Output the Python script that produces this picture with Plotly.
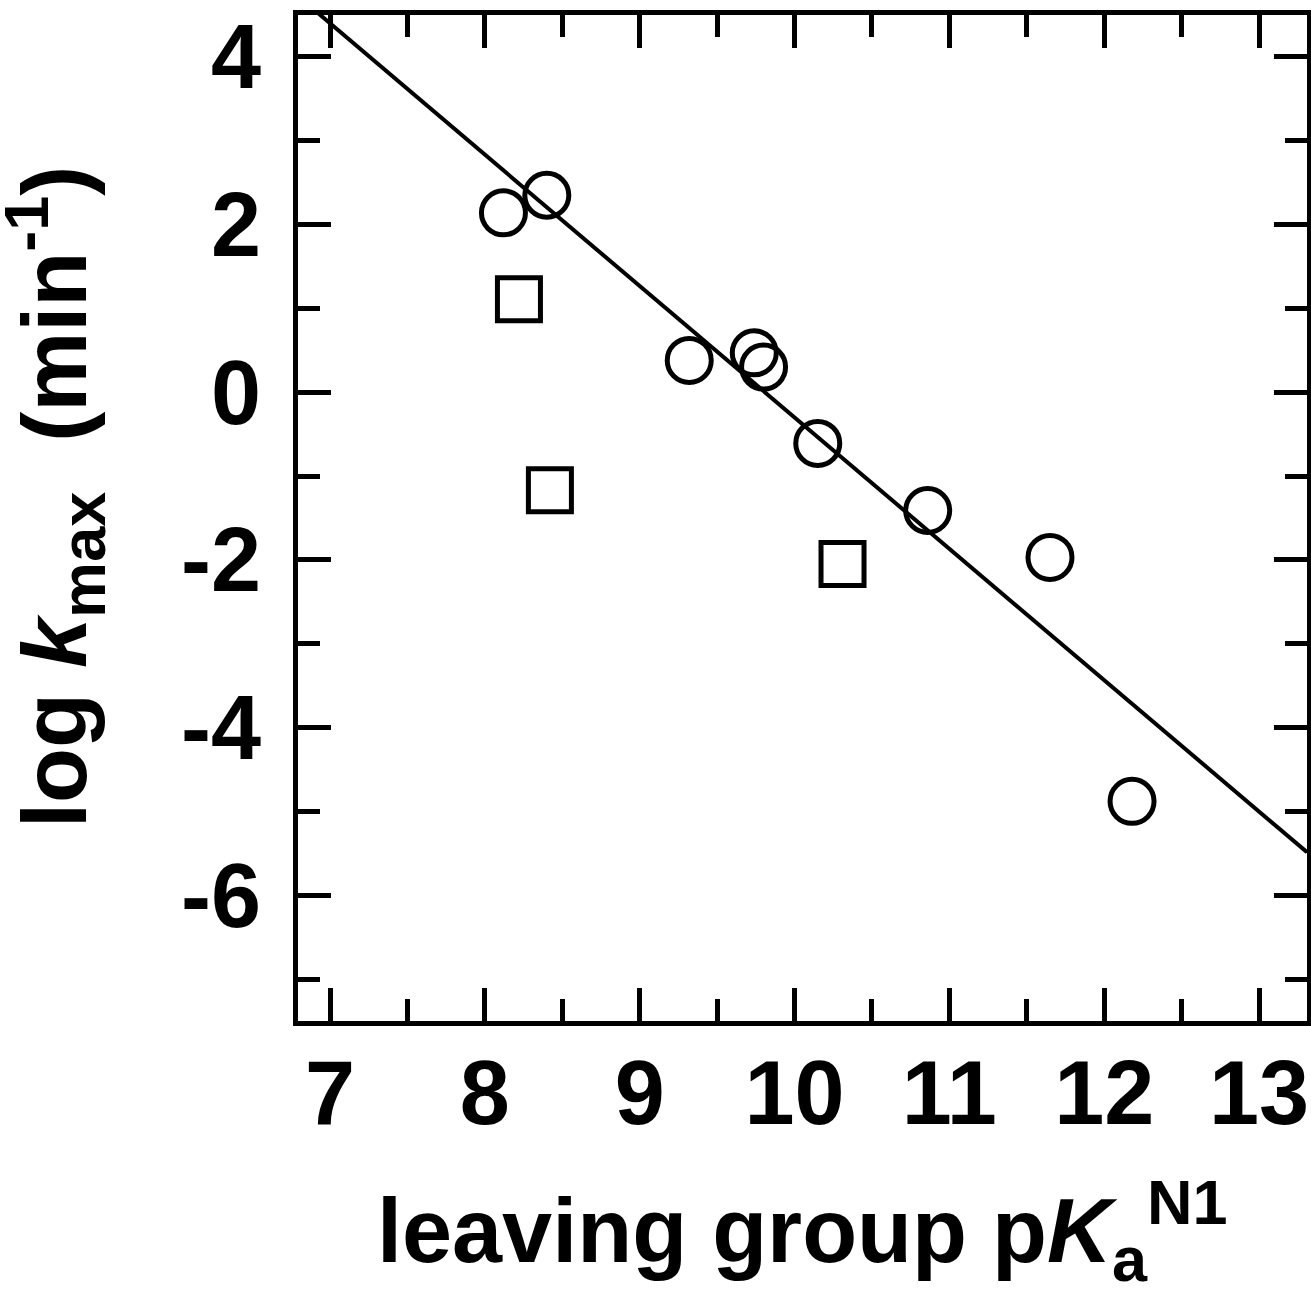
import plotly.graph_objects as go

# Circles: leaving groups fitted by the Brønsted line
circle_pka = [8.12, 8.40, 9.32, 9.74, 9.80, 10.15, 10.86, 11.65, 12.18]
circle_logk = [2.14, 2.35, 0.38, 0.47, 0.30, -0.61, -1.41, -1.97, -4.88]

# Squares: deviating leaving groups
square_pka = [8.22, 8.42, 10.31]
square_logk = [1.11, -1.17, -2.05]

# Linear fit: log kmax = slope * pKa + intercept
fit_slope = -1.567
fit_intercept = 15.37
fit_x = [6.79, 13.31]

x_tick_vals = [7, 8, 9, 10, 11, 12, 13]
x_tick_labels = ["7", "8", "9", "10", "11", "12", "13"]
y_tick_vals = [-6, -4, -2, 0, 2, 4]
y_tick_labels = ["-6", "-4", "-2", "0", "2", "4"]

x_title = "leaving group p<i>K</i><sub>a</sub><sup>N1</sup>"
y_title = "log <i>k</i><sub>max</sub>  (min<sup>-1</sup>)"

FONT = "Liberation Sans, Arial, Helvetica, sans-serif"
title_font = dict(family=FONT, size=90, color="black", weight=700)

fig = go.Figure()

fig.add_trace(go.Scatter(
    x=fit_x,
    y=[fit_slope * v + fit_intercept for v in fit_x],
    mode="lines",
    line=dict(color="black", width=4),
    showlegend=False,
    hoverinfo="skip",
))

fig.add_trace(go.Scatter(
    x=circle_pka, y=circle_logk, mode="markers",
    marker=dict(symbol="circle-open", size=44, color="black",
                line=dict(width=5, color="black")),
    showlegend=False,
))

fig.add_trace(go.Scatter(
    x=square_pka, y=square_logk, mode="markers",
    marker=dict(symbol="square-open", size=43, color="black",
                line=dict(width=5, color="black")),
    showlegend=False,
))

axis_common = dict(
    showgrid=False, zeroline=False,
    showline=True, linecolor="black", linewidth=5,
    mirror="ticks", automargin=False,
    ticks="inside", ticklen=33, tickwidth=5, tickcolor="black",
    tickfont=dict(family=FONT, size=90, color="black", weight=700),
)

fig.update_xaxes(
    range=[6.793, 13.31],
    tickmode="array", tickvals=x_tick_vals, ticktext=x_tick_labels,
    minor=dict(ticks="inside", ticklen=22, tickwidth=5, tickcolor="black",
               dtick=0.5, tick0=7, showgrid=False),
    ticklabelstandoff=-10,
    **axis_common,
)

fig.update_yaxes(
    range=[-7.5, 4.5],
    tickmode="array", tickvals=y_tick_vals, ticktext=y_tick_labels,
    minor=dict(ticks="inside", ticklen=22, tickwidth=5, tickcolor="black",
               dtick=1, tick0=0, showgrid=False),
    ticklabelstandoff=14,
    **axis_common,
)

# Axis titles placed in the margins
fig.add_annotation(
    text=x_title, xref="paper", yref="paper",
    x=0.5, y=-0.2087, xanchor="center", yanchor="middle",
    showarrow=False, font=title_font,
)
fig.add_annotation(
    text=y_title, xref="paper", yref="paper",
    x=-0.2408, y=0.521, xanchor="center", yanchor="middle",
    textangle=-90, showarrow=False, font=title_font,
)

fig.update_layout(
    width=1311, height=1291,
    margin=dict(l=298, r=4, t=15, b=270),
    paper_bgcolor="white", plot_bgcolor="white",
)

fig.write_html("out.html")
